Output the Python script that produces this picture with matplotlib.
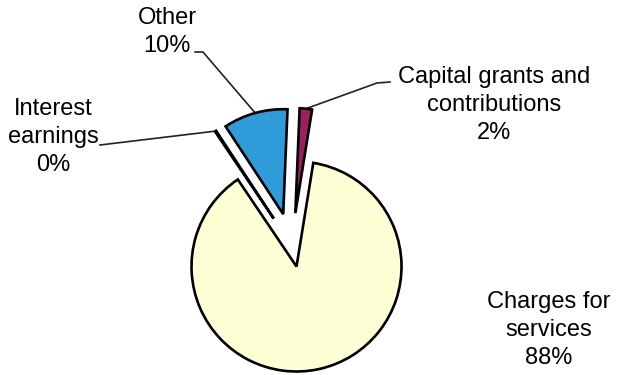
import numpy as np
import matplotlib.pyplot as plt

plt.rcParams['font.family'] = ['Liberation Sans', 'DejaVu Sans']

# revenue shares, percent
categories = ['Capital grants and\ncontributions', 'Other', 'Interest\nearnings',
              'Charges for\nservices']
shares = [1.9, 9.9, 0.2, 88.0]
colors = ['#9E1F5E', '#2F9BDB', '#FFFFFF', '#FFFFD6']

W, H = 621, 375
fig = plt.figure(figsize=(W / 100, H / 100), dpi=100)
ax = fig.add_axes([0, 0, 1, 1])

# work in pixel units, y counted from the top
def py(y):
    return H - y

R = 105
wedges, _ = ax.pie(shares, colors=colors, startangle=80.8, counterclock=True,
                   center=(292, py(246)), radius=R,
                   explode=[33, 33, 33, 21],
                   wedgeprops=dict(edgecolor='black', linewidth=1.9))

ax.set_xlim(0, W)
ax.set_ylim(0, H)
ax.set_aspect('equal')
ax.axis('off')


def arc_mid(w):
    t = np.deg2rad((w.theta1 + w.theta2) / 2)
    cx, cy = w.center
    return cx + w.r * np.cos(t), cy + w.r * np.sin(t)


labels = [f'{c}\n{s:.0f}%' for c, s in zip(categories, shares)]
text_pos = [(494, 105), (167, 32), (53, 137), (549, 330)]
for lab, (tx, ty) in zip(labels, text_pos):
    ax.text(tx, py(ty), lab, ha='center', va='center', multialignment='center',
            fontsize=17, linespacing=1.36, color='black')

# leader lines from the labels to the outer arc of each small slice
elbows = [[(390, 82), (377, 83)], [(195, 52), (203, 52)], [(100, 145)]]
for w, pts in zip(wedges[:3], elbows):
    xs = [p[0] for p in pts]
    ys = [py(p[1]) for p in pts]
    mx, my = arc_mid(w)
    ax.plot(xs + [mx], ys + [my], color='#222222', lw=1.2, zorder=0)

fig.savefig('out.png', dpi=100, facecolor='white')
